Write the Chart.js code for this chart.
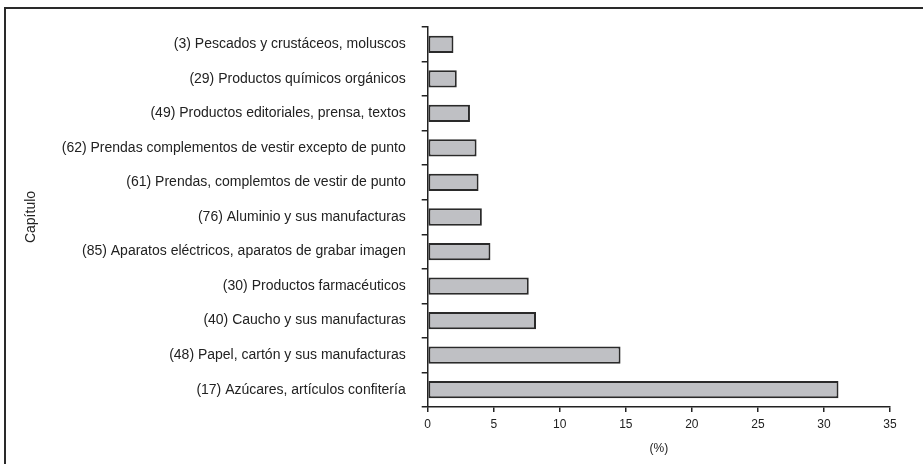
<!DOCTYPE html>
<html>
<head>
<meta charset="utf-8">
<script src="https://cdn.jsdelivr.net/npm/chart.js@4/dist/chart.umd.min.js"></script>
<style>
  html, body { margin: 0; padding: 0; background: #fff; overflow: hidden; }
  #frame { position: absolute; left: 4px; top: 7px; width: 940px; height: 480px; border: 2px solid #2a2a2a; box-sizing: border-box; }
  #wrap { position: absolute; left: 0; top: 0; width: 923px; height: 464px; }
</style>
</head>
<body>
<div id="frame"></div>
<div id="wrap"><canvas id="chart" width="923" height="464"></canvas></div>
<script>
// Chapters, top to bottom as in the picture
const chapters = [
  '(3) Pescados y crustáceos, moluscos',
  '(29) Productos químicos orgánicos',
  '(49) Productos editoriales, prensa, textos',
  '(62) Prendas complementos de vestir excepto de punto',
  '(61) Prendas, complemtos de vestir de punto',
  '(76) Aluminio y sus manufacturas',
  '(85) Aparatos eléctricos, aparatos de grabar imagen',
  '(30) Productos farmacéuticos',
  '(40) Caucho y sus manufacturas',
  '(48) Papel, cartón y sus manufacturas',
  '(17) Azúcares, artículos confitería'
];
// share (%)
const shares = [1.95, 2.2, 3.2, 3.7, 3.85, 4.1, 4.75, 7.65, 8.2, 14.6, 31.1];
const xTicks = [0, 5, 10, 15, 20, 25, 30, 35];

const ink = '#222';
Chart.defaults.font.family = 'Arial, "Liberation Sans", sans-serif';
Chart.defaults.font.size = 12;
Chart.defaults.color = ink;

new Chart(document.getElementById('chart').getContext('2d'), {
  type: 'bar',
  data: {
    labels: chapters,
    datasets: [{
      data: shares,
      backgroundColor: '#bfc0c4',
      borderColor: '#2a2a2a',
      borderWidth: 2,
      borderSkipped: false,
      categoryPercentage: 1,
      barPercentage: 0.5
    }]
  },
  options: {
    indexAxis: 'y',
    responsive: false,
    animation: false,
    layout: { padding: { left: 20, right: 33, top: 27, bottom: 0 } },
    plugins: { legend: { display: false }, tooltip: { enabled: false } },
    scales: {
      x: {
        min: 0,
        max: 35,
        afterBuildTicks: s => { s.ticks = xTicks.map(v => ({ value: v })); },
        border: { color: ink, width: 1.5 },
        grid: { drawOnChartArea: false, color: ink, lineWidth: 1.5, tickLength: 5 },
        ticks: { padding: 5, color: ink },
        title: { display: true, text: '(%)', color: ink, padding: { top: 8, bottom: 8 } },
        afterFit: s => { s.height = 57; }
      },
      y: {
        offset: true,
        border: { color: ink, width: 1.5 },
        grid: { offset: true, drawOnChartArea: false, color: ink, lineWidth: 1.5, tickLength: 6 },
        ticks: { padding: 16, color: ink, autoSkip: false, font: { size: 14 } },
        title: { display: true, text: 'Capítulo', color: ink, font: { size: 14 }, padding: { top: 3, bottom: 0 } },
        afterFit: s => { s.width = 407.7; }
      }
    }
  }
});
</script>
</body>
</html>
